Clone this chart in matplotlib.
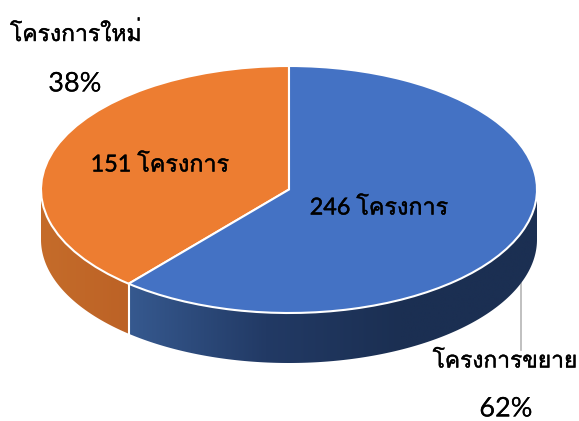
import numpy as np
import matplotlib
matplotlib.use('Agg')
import matplotlib.pyplot as plt
import matplotlib.patheffects as pe
from matplotlib.colors import LinearSegmentedColormap
from matplotlib.patches import Polygon

# data
names = ['โครงการใหม่', 'โครงการขยาย']
counts = [151, 246]
count_unit = 'โครงการ'
percents = ['38%', '62%']

W, H = 579, 421
CX, CY = 289, 189.5   # pie centre, in image pixels
RX, RY = 248, 123.5
DEPTH = 50
SPLIT_NUDGE = 2.8     # the 3D view of the original shifts the split by a little

thai = ['Lato', 'Loma', 'Noto Sans Thai Looped', 'DejaVu Sans']


def wall(ax, a, b, stops, x0, x1):
    # side of the pie between two angles, filled with a left to right gradient
    t = np.radians(np.linspace(a, b, 200))
    xs = CX + RX * np.cos(t)
    ys = RX * np.sin(t)
    drop = DEPTH * RX / RY
    pts = np.r_[np.c_[xs, ys], np.c_[xs[::-1], ys[::-1] - drop]]
    poly = Polygon(pts, closed=True, fc='none', ec='none', transform=ax.transData)
    ax.add_patch(poly)
    cmap = LinearSegmentedColormap.from_list('wall', stops)
    grad = np.linspace(0, 1, 256).reshape(1, -1)
    im = ax.imshow(grad, cmap=cmap, aspect='auto', zorder=1,
                   extent=(x0, x1, -RX - drop, RX), interpolation='bilinear')
    im.set_clip_path(poly)


fig = plt.figure(figsize=(W / 100, H / 100), dpi=100)
ax = fig.add_axes([0, 0, 1, 1])

wedges, _ = ax.pie(counts, colors=['#ED7D31', '#4472C4'], startangle=90, center=(CX, 0),
                   radius=RX, wedgeprops={'edgecolor': 'white', 'linewidth': 1.5, 'zorder': 3})
split = wedges[0].theta2 + SPLIT_NUDGE
wedges[0].set_theta2(split)
wedges[1].set_theta1(split)

split_x = CX + RX * np.cos(np.radians(split))
split_y = RX * np.sin(np.radians(split))
wall(ax, 180, split, ['#C56C2A', '#BC6226'], CX - RX, split_x)
wall(ax, split, 360, ['#36598F', '#223A65', '#1B2F52', '#1B2F52'], split_x, CX + RX)

ax.set_aspect('auto')
ax.set_xlim(0, W)
ax.set_ylim((CY - H) * RX / RY, CY * RX / RY)
ax.axis('off')


def to_y(py):
    return (CY - py) * RX / RY


# white seam down the side at the split
ax.plot([split_x, split_x], [split_y, split_y - DEPTH * RX / RY], color='white', lw=1.5, zorder=2)
# leader line to the lower right label
ax.plot([521, 521], [to_y(283), to_y(350)], color='#B5B5B5', lw=1.2, zorder=0)


def label(x, y, s, size, ha='center', stroke=0.3):
    # thin stroke because the original text is a bit heavier than Loma
    fig.text(x / W, 1 - y / H, s, family=thai, fontsize=size, color='black', ha=ha, va='center',
             path_effects=[pe.withStroke(linewidth=stroke, foreground='black')])


label(10, 33, names[0], 16.5, ha='left')
label(75, 84, percents[0], 19.5, stroke=0.01)
label(160, 165, f'{counts[0]} {count_unit}', 16.8)
label(379, 208, f'{counts[1]} {count_unit}', 16.8)
label(505, 361, names[1], 16.4)
label(506, 409, percents[1], 19.5, stroke=0.01)

fig.savefig('out.png', dpi=100)
